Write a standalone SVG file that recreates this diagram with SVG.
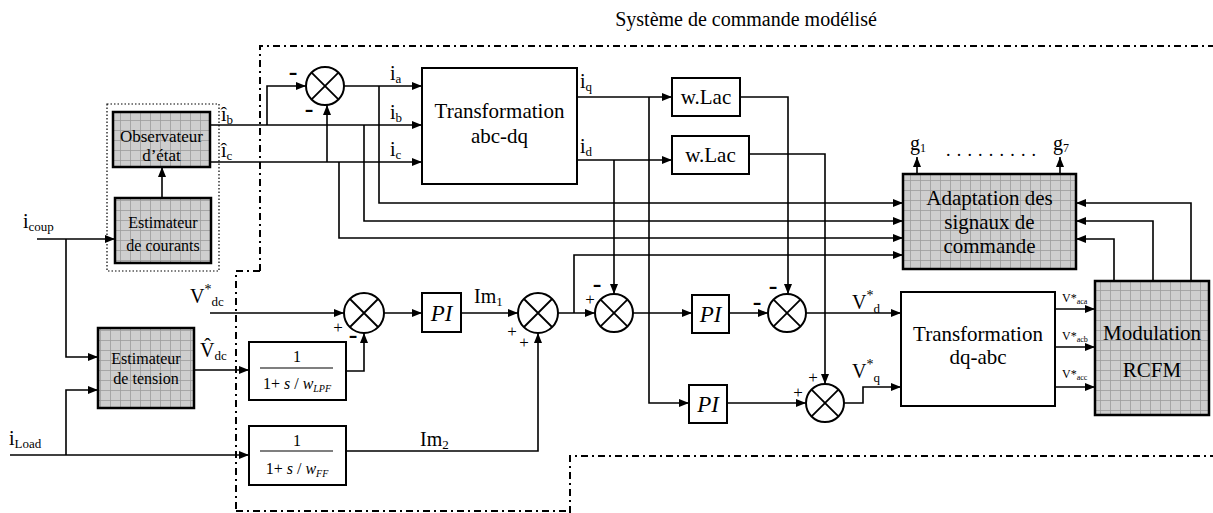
<svg xmlns="http://www.w3.org/2000/svg" width="1213" height="513" viewBox="0 0 1213 513">
<defs>
<marker id="ah" markerWidth="10" markerHeight="8" refX="10" refY="4" orient="auto" markerUnits="userSpaceOnUse"><path d="M0,0 L10,4 L0,8 z" fill="#000"/></marker>
<pattern id="grid" width="10" height="10" patternUnits="userSpaceOnUse"><rect width="10" height="10" fill="#cecece"/><path d="M0,0.5H10M0.5,0V10" stroke="#9c9c9c" stroke-width="0.8" fill="none"/></pattern>
</defs>
<style>
text{font-family:"Liberation Serif","Times New Roman",serif;fill:#000}
.blk{fill:#fff;stroke:#000;stroke-width:2}
.gry{fill:url(#grid);stroke:#000;stroke-width:2.5}
.w{fill:none;stroke:#000;stroke-width:1.6}
.a{marker-end:url(#ah)}
.sum{fill:#fff;stroke:#000;stroke-width:2}
.x{fill:none;stroke:#000;stroke-width:1.8}
.bnd{fill:none;stroke:#000;stroke-width:2;stroke-dasharray:7 4 2 4}
.dot{fill:none;stroke:#000;stroke-width:1.2;stroke-dasharray:1.5 2}
.t20{font-size:21px}
.t17{font-size:17px}
.t16{font-size:16px}
.lb{font-size:20px}
.sb{font-size:13px}
.pi{font-size:23px;font-style:italic}
.m{font-size:26px;font-weight:bold}
.p{font-size:17px}
.mid{text-anchor:middle}
</style>

<g id="boundary">
<path class="bnd" d="M260,271 V46 H1213"/>
<path class="bnd" d="M260,271 H236 V513"/>
<path class="bnd" d="M236,511 H570"/>
<path class="bnd" d="M570,513 V456 H1213"/>
<text x="746" y="26" class="lb mid">Système de commande modélisé</text>
</g>

<g id="observer-group">
<rect x="107" y="104" width="112" height="167" class="dot"/>
</g>

<g id="observateur">
<rect x="113" y="112" width="97" height="55" class="gry"/>
<text x="161.5" y="142" class="t17 mid">Observateur</text>
<text x="161.5" y="161" class="t17 mid">d’état</text>
</g>

<g id="estimateur-courants">
<rect x="115" y="198" width="96" height="65" class="gry"/>
<text x="163" y="228" class="t16 mid">Estimateur</text>
<text x="163" y="251" class="t16 mid">de courants</text>
</g>

<g id="estimateur-tension">
<rect x="98" y="328" width="96" height="80" class="gry"/>
<text x="146" y="364" class="t16 mid">Estimateur</text>
<text x="146" y="384" class="t16 mid">de tension</text>
</g>

<g id="sum0" transform="translate(325,86)"><circle r="19" class="sum"/><path class="x" d="M-13.4,-13.4L13.4,13.4M-13.4,13.4L13.4,-13.4"/></g>
<g id="sum1" transform="translate(364,313)"><circle r="20" class="sum"/><path class="x" d="M-14,-14L14,14M-14,14L14,-14"/></g>
<g id="sum2" transform="translate(538,313)"><circle r="20" class="sum"/><path class="x" d="M-14,-14L14,14M-14,14L14,-14"/></g>
<g id="sum3" transform="translate(614,313)"><circle r="19" class="sum"/><path class="x" d="M-13.4,-13.4L13.4,13.4M-13.4,13.4L13.4,-13.4"/></g>
<g id="sum4" transform="translate(787,313)"><circle r="19" class="sum"/><path class="x" d="M-13.4,-13.4L13.4,13.4M-13.4,13.4L13.4,-13.4"/></g>
<g id="sum5" transform="translate(825,403)"><circle r="19" class="sum"/><path class="x" d="M-13.4,-13.4L13.4,13.4M-13.4,13.4L13.4,-13.4"/></g>

<g id="abc-dq">
<rect x="422" y="68" width="155" height="116" class="blk"/>
<text x="499.5" y="118" class="t20 mid">Transformation</text>
<text x="499.5" y="143" class="t20 mid">abc-dq</text>
</g>

<g id="wlac1">
<rect x="672" y="78" width="68" height="38" class="blk"/>
<text x="706" y="104" class="t20 mid">w.Lac</text>
</g>
<g id="wlac2">
<rect x="672" y="136" width="77" height="38" class="blk"/>
<text x="710.5" y="162" class="t20 mid">w.Lac</text>
</g>

<g id="adaptation">
<rect x="903" y="174" width="173" height="95" class="gry"/>
<text x="989.5" y="205" class="t20 mid">Adaptation des</text>
<text x="989.5" y="229" class="t20 mid">signaux de</text>
<text x="989.5" y="253" class="t20 mid">commande</text>
</g>

<g id="lpf">
<rect x="249" y="342" width="97" height="58" class="blk"/>
<text x="297" y="362" class="t16 mid">1</text>
<line x1="260" y1="368" x2="333" y2="368" stroke="#000" stroke-width="1.2"/>
<text x="297" y="389" class="t16 mid">1+ <tspan font-style="italic">s</tspan> / <tspan font-style="italic">w</tspan><tspan font-size="10" font-style="italic" dy="3">LPF</tspan></text>
</g>

<g id="ff">
<rect x="249" y="426" width="97" height="59" class="blk"/>
<text x="297" y="446" class="t16 mid">1</text>
<line x1="260" y1="451" x2="333" y2="451" stroke="#000" stroke-width="1.2"/>
<text x="297" y="474" class="t16 mid">1+ <tspan font-style="italic">s</tspan> / <tspan font-style="italic">w</tspan><tspan font-size="10" font-style="italic" dy="3">FF</tspan></text>
</g>

<g id="pi1">
<rect x="422" y="293" width="39" height="39" class="blk"/>
<text x="441.5" y="321" class="pi mid">PI</text>
</g>
<g id="pi2">
<rect x="692" y="295" width="37" height="38" class="blk"/>
<text x="710.5" y="322" class="pi mid">PI</text>
</g>
<g id="pi3">
<rect x="689" y="385" width="38" height="38" class="blk"/>
<text x="708" y="412" class="pi mid">PI</text>
</g>

<g id="dq-abc">
<rect x="901" y="292" width="154" height="114" class="blk"/>
<text x="978" y="341" class="t20 mid">Transformation</text>
<text x="978" y="364" class="t20 mid">dq-abc</text>
</g>

<g id="modulation">
<rect x="1095" y="281" width="114" height="134" class="gry"/>
<text x="1152" y="340" class="t20 mid">Modulation</text>
<text x="1152" y="377" class="t20 mid">RCFM</text>
</g>

<g id="connectors">
<path class="w a" d="M37,239 H115"/>
<path class="w a" d="M66,239 V357 H98"/>
<path class="w a" d="M10,455 H249"/>
<path class="w a" d="M66,455 V390 H98"/>
<path class="w a" d="M162,198 V167"/>
<path class="w a" d="M210,125 H422"/>
<path class="w a" d="M210,162 H422"/>
<path class="w a" d="M267,125 V86 H306"/>
<path class="w a" d="M327,162 V105"/>
<path class="w a" d="M344,86 H422"/>
<path class="w a" d="M379,86 V203 H903"/>
<path class="w a" d="M364,125 V221 H903"/>
<path class="w a" d="M339,162 V238 H903"/>
<path class="w a" d="M577,97 H672"/>
<path class="w a" d="M577,160 H672"/>
<path class="w a" d="M649,97 V403 H689"/>
<path class="w a" d="M614,160 V294"/>
<path class="w a" d="M740,97 H788 V294"/>
<path class="w a" d="M749,154 H825 V384"/>
<path class="w a" d="M210,313 H344"/>
<path class="w a" d="M194,370 H249"/>
<path class="w a" d="M346,371 H364 V333"/>
<path class="w a" d="M384,313 H422"/>
<path class="w a" d="M461,313 H518"/>
<path class="w a" d="M346,451 H538 V333"/>
<path class="w a" d="M558,313 H595"/>
<path class="w a" d="M574,313 V255 H903"/>
<path class="w a" d="M633,313 H692"/>
<path class="w a" d="M729,313 H768"/>
<path class="w a" d="M806,313 H901"/>
<path class="w a" d="M727,403 H806"/>
<path class="w a" d="M844,403 H863 V387 H901"/>
<path class="w a" d="M1055,309 H1095"/>
<path class="w a" d="M1055,347 H1095"/>
<path class="w a" d="M1055,387 H1095"/>
<path class="w a" d="M1191,281 V203 H1076"/>
<path class="w a" d="M1153,281 V221 H1076"/>
<path class="w a" d="M1114,281 V239 H1076"/>
<path class="w a" d="M917,174 V157"/>
<path class="w a" d="M1060,174 V157"/>
</g>

<g id="labels">
<text x="221" y="121" class="lb">î<tspan class="sb" dy="3">b</tspan></text>
<text x="221" y="157" class="lb">î<tspan class="sb" dy="3">c</tspan></text>
<text x="390" y="80" class="lb">i<tspan class="sb" dy="3">a</tspan></text>
<text x="390" y="119" class="lb">i<tspan class="sb" dy="3">b</tspan></text>
<text x="390" y="156" class="lb">i<tspan class="sb" dy="3">c</tspan></text>
<text x="580" y="88" class="lb">i<tspan class="sb" dy="3">q</tspan></text>
<text x="580" y="153" class="lb">i<tspan class="sb" dy="3">d</tspan></text>
<text x="23" y="228" class="lb">i<tspan class="sb" dy="3">coup</tspan></text>
<text x="9" y="445" class="lb">i<tspan class="sb" dy="3">Load</tspan></text>
<text x="190" y="303" class="lb">V<tspan font-size="14" dy="-9">*</tspan><tspan class="sb" dy="12">dc</tspan></text>
<text x="200" y="357" class="lb">V̂<tspan class="sb" dy="3">dc</tspan></text>
<text x="474" y="303" class="lb">Im<tspan class="sb" dy="3">1</tspan></text>
<text x="420" y="446" class="lb">Im<tspan class="sb" dy="3">2</tspan></text>
<text x="852" y="309" class="lb">V<tspan font-size="14" dy="-9">*</tspan><tspan class="sb" dy="13">d</tspan></text>
<text x="852" y="378" class="lb">V<tspan font-size="14" dy="-9">*</tspan><tspan class="sb" dy="13">q</tspan></text>
<text x="1062" y="302" font-size="12">V*<tspan font-size="8" dy="2">aca</tspan></text>
<text x="1062" y="340" font-size="12">V*<tspan font-size="8" dy="2">acb</tspan></text>
<text x="1062" y="378" font-size="12">V*<tspan font-size="8" dy="2">acc</tspan></text>
<text x="910" y="150" class="lb">g<tspan font-size="12" dy="2">1</tspan></text>
<text x="1053" y="150" class="lb">g<tspan font-size="12" dy="2">7</tspan></text>
<text x="946" y="156" font-size="18" letter-spacing="6.2">.........</text>
</g>

<g id="signs">
<text x="293" y="80" class="m mid">-</text>
<text x="309" y="117" class="m mid">-</text>
<text x="338" y="333" class="p mid">+</text>
<text x="353" y="343" class="m mid">-</text>
<text x="512" y="337" class="p mid">+</text>
<text x="524" y="348" class="p mid">+</text>
<text x="597" y="292" class="m mid">-</text>
<text x="590" y="305" class="p mid">+</text>
<text x="757" y="310" class="m mid">-</text>
<text x="773" y="294" class="m mid">-</text>
<text x="798" y="398" class="p mid">+</text>
<text x="813" y="383" class="p mid">+</text>
</g>
</svg>
